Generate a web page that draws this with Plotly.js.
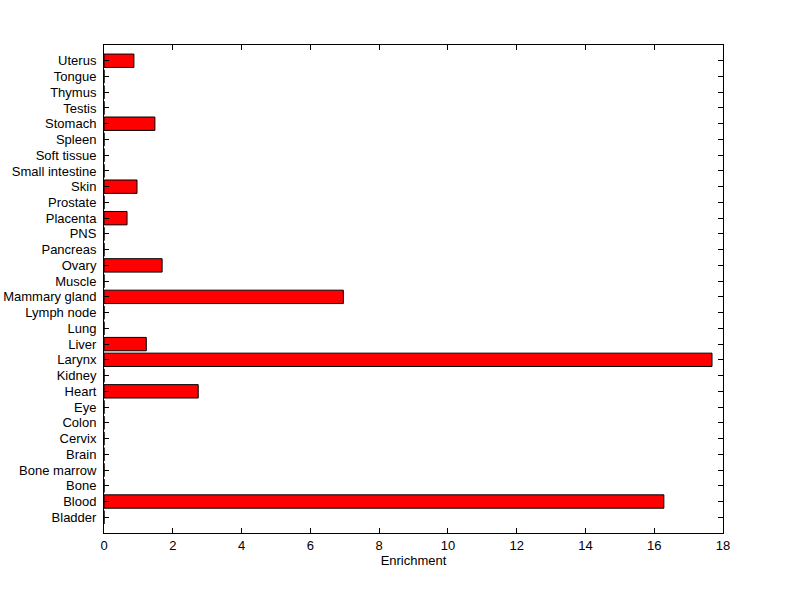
<!DOCTYPE html>
<html>
<head>
<meta charset="utf-8">
<script src="https://cdn.plot.ly/plotly-3.0.1.min.js"></script>
<style>html,body{margin:0;padding:0;background:#fff;}#chart{width:800px;height:599px;}</style>
</head>
<body>
<div id="chart"></div>
<script>
const tissues = ["Bladder","Blood","Bone","Bone marrow","Brain","Cervix","Colon","Eye","Heart","Kidney","Larynx","Liver","Lung","Lymph node","Mammary gland","Muscle","Ovary","Pancreas","PNS","Placenta","Prostate","Skin","Small intestine","Soft tissue","Spleen","Stomach","Testis","Thymus","Tongue","Uterus"];
const enrichment = [0,16.28,0,0,0,0,0,0,2.74,0,17.68,1.23,0,0,6.96,0,1.69,0,0,0.67,0,0.96,0,0,0,1.48,0,0,0,0.87];
const xTicks = [0,2,4,6,8,10,12,14,16,18];

const trace = {
  type: 'bar',
  orientation: 'h',
  x: enrichment,
  y: tissues.map((t,i)=>i),
  width: 0.85,
  marker: {color: '#ff0000', line: {color: '#000000', width: 1}},
  hoverinfo: 'x+text',
  text: tissues,
  textposition: 'none'
};

const font = {family: 'Liberation Sans, Arial, Helvetica, sans-serif', size: 13, color: '#000'};

const layout = {
  width: 800, height: 599,
  margin: {l: 104, r: 77, t: 45, b: 66, pad: 0},
  paper_bgcolor: '#fff', plot_bgcolor: '#fff',
  showlegend: false,
  font: font,
  xaxis: {
    range: [0, 18], tickvals: xTicks, ticktext: xTicks.map(String),
    showgrid: false, zeroline: false,
    showline: true, linecolor: '#000', linewidth: 1, mirror: 'allticks',
    ticks: 'inside', ticklen: 5, tickcolor: '#000', tickwidth: 1,
    tickfont: font,
    title: {text: 'Enrichment', font: font, standoff: 4}
  },
  yaxis: {
    range: [-1, 30], tickvals: tissues.map((t,i)=>i), ticktext: tissues,
    showgrid: false, zeroline: false,
    showline: true, linecolor: '#000', linewidth: 1, mirror: 'allticks',
    ticks: 'inside', ticklen: 5, tickcolor: '#000', tickwidth: 1,
    tickfont: font, ticklabelstandoff: 4
  }
};

Plotly.newPlot('chart', [trace], layout, {displayModeBar: false, staticPlot: true});
</script>
</body>
</html>
